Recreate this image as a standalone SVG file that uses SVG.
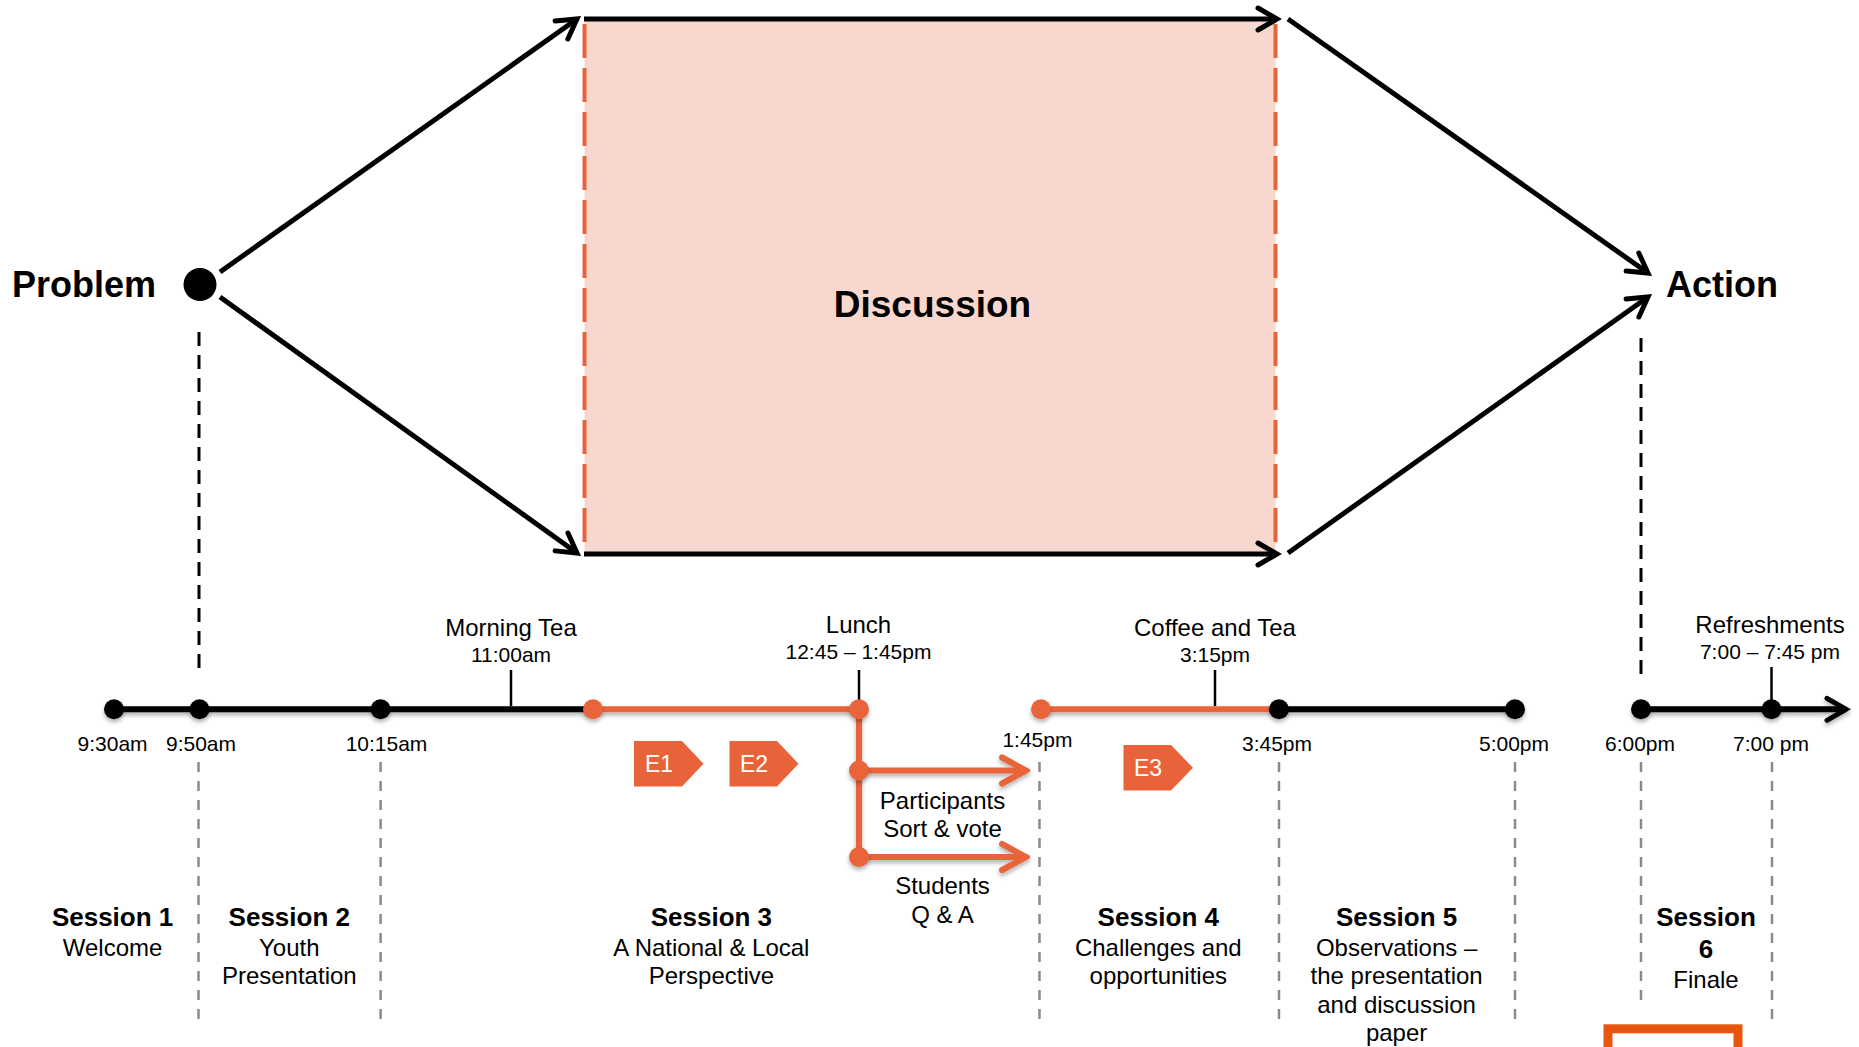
<svg xmlns="http://www.w3.org/2000/svg" width="1859" height="1047" viewBox="0 0 1859 1047">
<style>
text{font-family:"Liberation Sans",Arial,sans-serif;fill:#000}
.big{font-size:37px;font-weight:bold}
.hd{font-size:24px;text-anchor:middle}
.sm{font-size:21px;text-anchor:middle}
.ses{font-size:26px;font-weight:bold;text-anchor:middle}
.desc{font-size:24px;text-anchor:middle}
.tag{font-size:23px;fill:#fff;text-anchor:middle}
.blk{stroke:#000;stroke-width:5;fill:none}
.org{stroke:#E9633A;stroke-width:6;fill:none}
.tl{stroke:#000;stroke-width:6;fill:none}
.gdash{stroke:#8a8a8a;stroke-width:2.5;stroke-dasharray:10 9;fill:none}
.kdash{stroke:#000;stroke-width:3;stroke-dasharray:14 9;fill:none}
.odash{stroke:#E9633A;stroke-width:4;stroke-dasharray:34 10;fill:none}
.tick{stroke:#000;stroke-width:2.5}
.dk{fill:#000}
.do{fill:#E9633A}
.tagbg{fill:#E9633A}
</style>
<defs>
<marker id="ah" viewBox="-4 -15 28 30" markerWidth="28" markerHeight="30" refX="19" refY="0" orient="auto" markerUnits="userSpaceOnUse">
<path d="M0,-11 L19,0 L0,11" fill="none" stroke="#000" stroke-width="5" stroke-linecap="round"/>
</marker>
<marker id="aho" viewBox="-4 -17 32 34" markerWidth="32" markerHeight="34" refX="24" refY="0" orient="auto" markerUnits="userSpaceOnUse">
<path d="M0,-13 L24,0 L0,13" fill="none" stroke="#E9633A" stroke-width="6" stroke-linecap="round"/>
</marker>
<filter id="sh" x="-5%" y="-50%" width="110%" height="200%">
<feDropShadow dx="0" dy="3" stdDeviation="2" flood-color="#000" flood-opacity="0.3"/>
</filter>
</defs>

<g id="discussion">
<rect x="584.5" y="19" width="691" height="535" fill="#F8D8CE"/>
<line class="odash" x1="584.5" y1="24" x2="584.5" y2="552"/>
<line class="odash" x1="1275.5" y1="24" x2="1275.5" y2="552"/>
<text class="big" x="932.5" y="316.7" text-anchor="middle">Discussion</text>
</g>

<g id="problem">
<text class="big" x="12" y="297" style="font-size:36px">Problem</text>
<circle cx="200" cy="284.5" r="16.5" class="dk"/>
</g>

<g id="action">
<text class="big" x="1666" y="297" style="font-size:36px">Action</text>
</g>

<g id="connectors">
<line class="blk" x1="220" y1="272" x2="577" y2="19" marker-end="url(#ah)"/>
<line class="blk" x1="220" y1="297" x2="577" y2="553" marker-end="url(#ah)"/>
<line class="blk" x1="584" y1="19" x2="1277" y2="19" marker-end="url(#ah)"/>
<line class="blk" x1="584" y1="554" x2="1277" y2="554" marker-end="url(#ah)"/>
<line class="blk" x1="1288" y1="19" x2="1648" y2="273" marker-end="url(#ah)"/>
<line class="blk" x1="1288" y1="553" x2="1648" y2="297" marker-end="url(#ah)"/>
<line class="kdash" x1="199" y1="332" x2="199" y2="670"/>
<line class="kdash" x1="1641" y1="338" x2="1641" y2="676"/>
<line class="gdash" x1="198.5" y1="762" x2="198.5" y2="1022"/>
<line class="gdash" x1="380.6" y1="762" x2="380.6" y2="1022"/>
<line class="gdash" x1="1039.5" y1="762" x2="1039.5" y2="1022"/>
<line class="gdash" x1="1279" y1="762" x2="1279" y2="1022"/>
<line class="gdash" x1="1515" y1="762" x2="1515" y2="1022"/>
<line class="gdash" x1="1641" y1="762" x2="1641" y2="1000"/>
<line class="gdash" x1="1772" y1="762" x2="1772" y2="1022"/>
<line class="tick" x1="511" y1="670" x2="511" y2="706"/>
<line class="tick" x1="859" y1="670" x2="859" y2="706"/>
<line class="tick" x1="1215" y1="670" x2="1215" y2="706"/>
<line class="tick" x1="1771.5" y1="667" x2="1771.5" y2="706"/>
<g filter="url(#sh)">
<line class="tl" x1="114" y1="709.3" x2="593" y2="709.3"/>
<line class="org" x1="593" y1="709.3" x2="859" y2="709.3"/>
<line class="org" x1="859" y1="709.3" x2="859" y2="857"/>
<line class="org" x1="859" y1="770.5" x2="1026" y2="770.5" marker-end="url(#aho)"/>
<line class="org" x1="859" y1="857" x2="1026" y2="857" marker-end="url(#aho)"/>
<line class="org" x1="1041" y1="709.3" x2="1279" y2="709.3"/>
<line class="tl" x1="1279" y1="709.3" x2="1515" y2="709.3"/>
<line class="tl" x1="1641" y1="709.3" x2="1846" y2="709.3" marker-end="url(#ah)"/>
</g>
</g>

<g id="timeline-dots" filter="url(#sh)">
<circle class="dk" cx="114" cy="709.3" r="10"/>
<circle class="dk" cx="199.5" cy="709.3" r="10"/>
<circle class="dk" cx="380.6" cy="709.3" r="10"/>
<circle class="do" cx="593" cy="709.3" r="10"/>
<circle class="do" cx="859" cy="709.3" r="10"/>
<circle class="do" cx="859" cy="770.5" r="10"/>
<circle class="do" cx="859" cy="857" r="10"/>
<circle class="do" cx="1041" cy="709.3" r="10"/>
<circle class="dk" cx="1279" cy="709.3" r="10"/>
<circle class="dk" cx="1515" cy="709.3" r="10"/>
<circle class="dk" cx="1641" cy="709.3" r="10"/>
<circle class="dk" cx="1771.5" cy="709.3" r="10"/>
</g>

<g id="breaks">
<text class="hd" x="511" y="635.5">Morning Tea</text>
<text class="sm" x="511" y="661.5">11:00am</text>
<text class="hd" x="858.5" y="633">Lunch</text>
<text class="sm" x="858.5" y="659">12:45 – 1:45pm</text>
<text class="hd" x="1215" y="635.5">Coffee and Tea</text>
<text class="sm" x="1215" y="661.5">3:15pm</text>
<text class="hd" x="1770" y="633">Refreshments</text>
<text class="sm" x="1770" y="659">7:00 – 7:45 pm</text>
</g>

<g id="times">
<text class="sm" x="112.6" y="751">9:30am</text>
<text class="sm" x="201" y="751">9:50am</text>
<text class="sm" x="386.5" y="751">10:15am</text>
<text class="sm" x="1037.4" y="746.7">1:45pm</text>
<text class="sm" x="1277" y="751">3:45pm</text>
<text class="sm" x="1514" y="751">5:00pm</text>
<text class="sm" x="1640" y="751">6:00pm</text>
<text class="sm" x="1771" y="751">7:00 pm</text>
</g>

<g id="tags">
<polygon class="tagbg" points="634,741 682,741 703.5,763.7 682,786.5 634,786.5"/>
<text class="tag" x="659" y="771.5">E1</text>
<polygon class="tagbg" points="729.5,741 777,741 798.5,763.7 777,786.5 729.5,786.5"/>
<text class="tag" x="754" y="771.5">E2</text>
<polygon class="tagbg" points="1123.5,745 1171,745 1193,767.8 1171,790.5 1123.5,790.5"/>
<text class="tag" x="1148" y="775.5">E3</text>
</g>

<g id="branches">
<text class="desc" x="942.5" y="809">Participants</text>
<text class="desc" x="942.5" y="836.5">Sort &amp; vote</text>
<text class="desc" x="942.5" y="894.2">Students</text>
<text class="desc" x="942.5" y="922.7">Q &amp; A</text>
</g>

<g id="session1">
<text class="ses" x="112.6" y="926">Session 1</text>
<text class="desc" x="112.6" y="956">Welcome</text>
</g>
<g id="session2">
<text class="ses" x="289.3" y="926">Session 2</text>
<text class="desc" x="289.3" y="956">Youth</text>
<text class="desc" x="289.3" y="984.3">Presentation</text>
</g>
<g id="session3">
<text class="ses" x="711.4" y="926">Session 3</text>
<text class="desc" x="711.4" y="956">A National &amp; Local</text>
<text class="desc" x="711.4" y="984.3">Perspective</text>
</g>
<g id="session4">
<text class="ses" x="1158.3" y="926">Session 4</text>
<text class="desc" x="1158.3" y="956">Challenges and</text>
<text class="desc" x="1158.3" y="984.3">opportunities</text>
</g>
<g id="session5">
<text class="ses" x="1396.6" y="926">Session 5</text>
<text class="desc" x="1396.6" y="956">Observations –</text>
<text class="desc" x="1396.6" y="984.3">the presentation</text>
<text class="desc" x="1396.6" y="1012.8">and discussion</text>
<text class="desc" x="1396.6" y="1041.3">paper</text>
</g>
<g id="session6">
<text class="ses" x="1706" y="926">Session</text>
<text class="ses" x="1706" y="957.8">6</text>
<text class="desc" x="1706" y="988">Finale</text>
</g>

<g id="finale-box">
<rect x="1608" y="1028.8" width="130" height="40" fill="none" stroke="#E8570F" stroke-width="9"/>
</g>
</svg>
